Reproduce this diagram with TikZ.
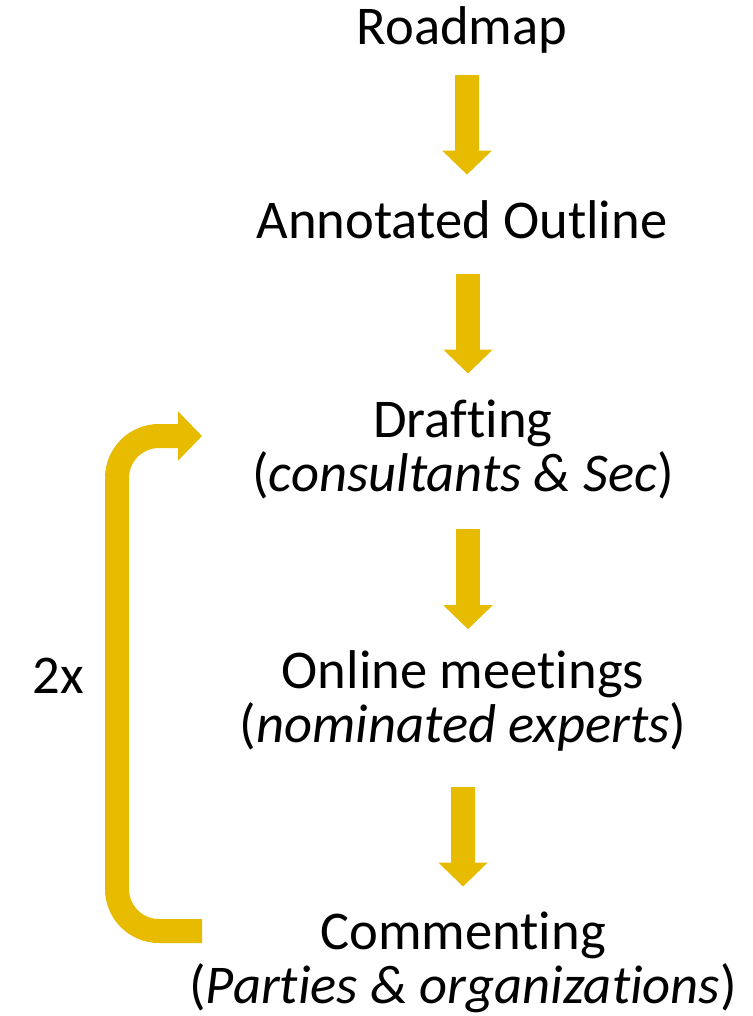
\documentclass[tikz,border=0pt]{standalone}
\usepackage{fontspec}
\setmainfont[Ligatures=NoCommon]{Carlito}
\usetikzlibrary{arrows.meta}

\definecolor{gold}{RGB}{230,187,0}

\begin{document}
\begin{tikzpicture}[x=0.5pt, y=-0.5pt,
    lbl/.style={inner sep=0pt, anchor=base, align=center,
      font=\fontsize{27.3}{26.75}\selectfont},
    flow/.style={draw=gold, line width=12pt,
      -{Triangle[length=12pt, width=24pt]}}]
  \useasboundingbox (0,0) rectangle (752,1016);

  % base anchor sits on the last line of each label
  \node[lbl] (roadmap) at (462,45) {Roadmap};
  \node[lbl] (outline) at (462,238) {Annotated Outline};
  \node[lbl] (drafting) at (463,491) {Drafting\\(\textit{consultants \& Sec})};
  \node[lbl] (online) at (463,742) {Online meetings\\(\textit{nominated experts})};
  \node[lbl] (commenting) at (463,1003) {Commenting\\(\textit{Parties \& organizations})};
  \node[lbl] (times) at (58,693) {2x};

  \draw[flow, shorten <=10.5pt, shorten >=12.5pt]
    ([xshift=2.5pt]roadmap.south) -- ([xshift=2.5pt]outline.north);
  \draw[flow, shorten <=17.5pt, shorten >=13pt]
    ([xshift=3pt]outline.south) -- ([xshift=2.5pt]drafting.north);
  \draw[flow, shorten <=15pt, shorten >=10.5pt]
    ([xshift=2.5pt]drafting.south) -- ([xshift=2.5pt]online.north);
  \draw[flow, shorten <=18pt, shorten >=12.5pt]
    (online.south) -- (commenting.north);

  % loop back from commenting to drafting
  \coordinate (back out) at (202,931);
  \coordinate (back in) at (202,436);
  \draw[flow, rounded corners=21pt]
    (back out) -- (117,931) -- (117,436) -- (back in);
\end{tikzpicture}
\end{document}
